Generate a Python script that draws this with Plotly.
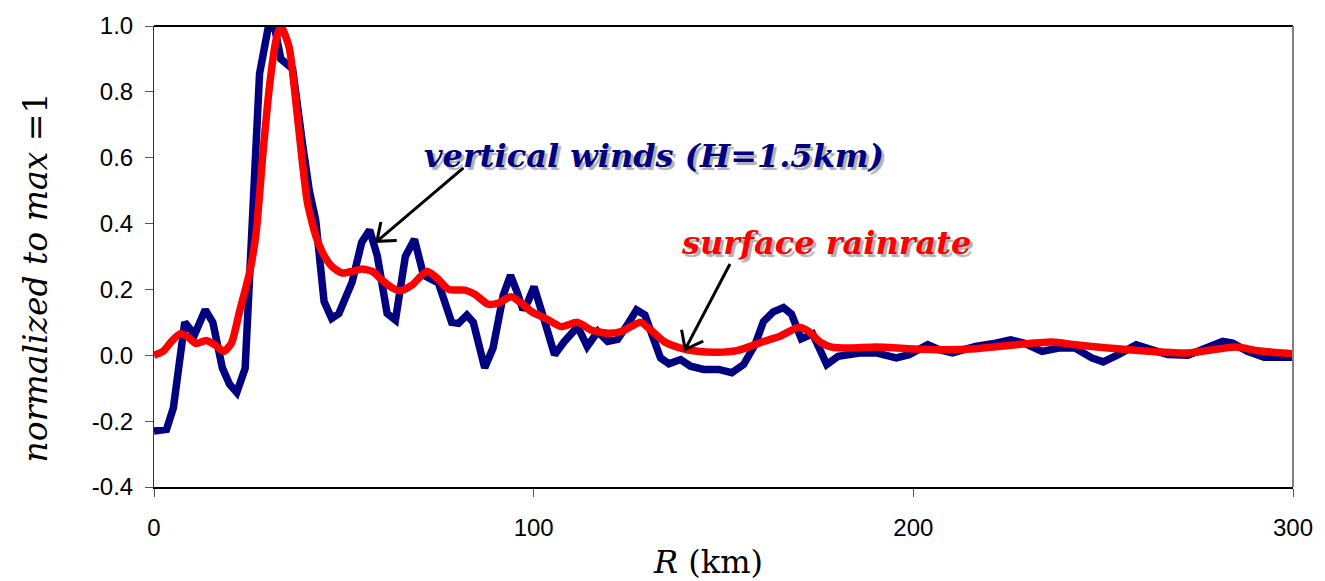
import math
import plotly.graph_objects as go

# Radial profiles, R in km
wind_r = [0, 3.3, 5.1, 8.1, 10.7, 13.5, 15.5, 18.0, 19.9, 21.8, 24.0, 26.4, 27.8, 30.0, 31.7,
          33.4, 36.5, 39.1, 40.9, 42.6, 44.8, 46.8, 48.7, 52.2, 54.7, 56.8, 58.8, 61.4, 63.6,
          66.2, 68.6, 71.0, 74.9, 78.4, 80.2, 82.4, 84.1, 87.1, 89.3, 92.0, 93.9, 95.6, 97.2,
          98.5, 100.1, 102.4, 105.5, 108.1, 111.6, 114.1, 116.9, 119.5, 122.1, 124.7, 127.1,
          129.3, 131.7, 133.4, 135.6, 138.7, 141.3, 144.8, 148.7, 152.2, 155.3, 158.3, 160.5,
          163.1, 165.8, 167.9, 170.5, 173.5, 177.2, 180.2, 185.8, 190.2, 195.5, 198.9, 203.8,
          206.8, 210.3, 216.4, 221.7, 225.6, 229.1, 233.9, 238.3, 242.6, 247.0, 250.0, 254.0,
          258.7, 262.7, 267.0, 272.3, 277.6, 281.5, 284.1, 288.0, 292.4, 298.5, 300.0]
wind_w = [-0.23, -0.225, -0.16, 0.10, 0.063, 0.138, 0.10, -0.038, -0.088, -0.113, -0.04, 0.58,
          0.855, 0.99, 1.0, 0.90, 0.87, 0.644, 0.50, 0.41, 0.163, 0.112, 0.127, 0.223, 0.343,
          0.38, 0.303, 0.127, 0.107, 0.30, 0.352, 0.243, 0.22, 0.10, 0.097, 0.122, 0.10, -0.038,
          0.022, 0.183, 0.243, 0.193, 0.138, 0.163, 0.208, 0.122, 0.002, 0.042, 0.087, 0.027,
          0.072, 0.042, 0.048, 0.093, 0.138, 0.122, 0.042, -0.008, -0.026, -0.013, -0.033,
          -0.043, -0.043, -0.053, -0.028, 0.032, 0.102, 0.132, 0.145, 0.125, 0.05, 0.065,
          -0.028, -0.003, 0.007, 0.007, -0.008, 0.002, 0.032, 0.017, 0.007, 0.027, 0.037,
          0.047, 0.037, 0.012, 0.022, 0.022, -0.008, -0.02, 0.002, 0.032, 0.017, 0.002, 0.0,
          0.022, 0.042, 0.037, 0.012, -0.006, -0.006, -0.006]

rain_r = [0, 2.4, 4.6, 6.8, 9.0, 11.0, 13.8, 16.0, 18.4, 20.4, 22.5, 25.2, 26.9, 28.7, 30.4,
          32.1, 33.4, 35.6, 37.4, 39.1, 40.4, 42.6, 44.8, 47.0, 49.6, 52.2, 54.8, 57.5, 60.1,
          62.7, 64.9, 67.9, 71.9, 74.5, 77.6, 81.9, 84.5, 88.0, 90.6, 94.1, 96.8, 99.4, 103.8,
          107.2, 111.6, 115.1, 119.5, 123.0, 125.6, 128.2, 130.8, 134.3, 138.7, 143.1, 148.3,
          153.5, 157.0, 160.5, 164.9, 169.8, 172.5, 175.5, 178.5, 183.2, 190.2, 198.9, 207.7,
          216.4, 225.1, 236.5, 242.6, 251.3, 260.0, 272.3, 284.8, 290.8, 298.5, 300.0]
rain_w = [0.0, 0.012, 0.042, 0.065, 0.055, 0.036, 0.045, 0.032, 0.012, 0.037, 0.132, 0.253,
          0.373, 0.614, 0.815, 0.955, 1.0, 0.935, 0.765, 0.584, 0.464, 0.363, 0.303, 0.268,
          0.25, 0.255, 0.262, 0.255, 0.228, 0.205, 0.196, 0.213, 0.255, 0.235, 0.2, 0.198,
          0.185, 0.155, 0.158, 0.178, 0.158, 0.133, 0.108, 0.087, 0.1, 0.077, 0.067, 0.072,
          0.087, 0.1, 0.077, 0.042, 0.022, 0.012, 0.009, 0.014, 0.027, 0.042, 0.058, 0.085,
          0.072, 0.04, 0.025, 0.022, 0.025, 0.02, 0.017, 0.02, 0.03, 0.04, 0.032, 0.022,
          0.014, 0.007, 0.025, 0.014, 0.006, 0.005]

x_ticks = [0, 100, 200, 300]
y_ticks = [-0.4, -0.2, 0.0, 0.2, 0.4, 0.6, 0.8, 1.0]
y_labels = ["-0.4", "-0.2", "0.0", "0.2", "0.4", "0.6", "0.8", "1.0"]

W, H = 1325, 581
ML, MR, MT, MB = 154, 26, 22, 94
X_RANGE = [0, 300]
Y_RANGE = [-0.4, 1.0]
PX_X = (W - ML - MR) / (X_RANGE[1] - X_RANGE[0])
PX_Y = (H - MT - MB) / (Y_RANGE[1] - Y_RANGE[0])

NAVY = "#000080"
RED = "#ff0000"
SERIF = "DejaVu Serif"
SANS = "Liberation Sans"

fig = go.Figure()
fig.add_trace(go.Scatter(x=wind_r, y=wind_w, mode="lines",
                         line=dict(color=NAVY, width=7.5), name="vertical winds"))
fig.add_trace(go.Scatter(x=rain_r, y=rain_w, mode="lines",
                         line=dict(color=RED, width=7.5, shape="spline", smoothing=0.6),
                         name="surface rainrate"))


def arrow_path(tail, head, barb=20, spread=38):
    """Open V arrow from tail to head, in data units, barbs sized in pixels."""
    dxp = (tail[0] - head[0]) * PX_X
    dyp = (tail[1] - head[1]) * PX_Y
    ang = math.atan2(dyp, dxp)
    pts = []
    for s in (-1, 1):
        a = ang + s * math.radians(spread)
        pts.append((head[0] + barb * math.cos(a) / PX_X, head[1] + barb * math.sin(a) / PX_Y))
    return (f"M{tail[0]},{tail[1]} L{head[0]},{head[1]} "
            f"M{pts[0][0]},{pts[0][1]} L{head[0]},{head[1]} L{pts[1][0]},{pts[1][1]}")


shapes = [
    dict(type="path", xref="x", yref="y", path=arrow_path((81.5, 0.569), (58.7, 0.346)),
         line=dict(color="black", width=3)),
    dict(type="path", xref="x", yref="y", path=arrow_path((151.7, 0.277), (139.9, 0.018)),
         line=dict(color="black", width=3)),
    # frame: top and right edges
    dict(type="line", xref="paper", yref="paper", x0=0, x1=1, y0=1, y1=1,
         line=dict(color="black", width=2)),
    dict(type="line", xref="paper", yref="paper", x0=1, x1=1, y0=0, y1=1,
         line=dict(color="#808080", width=2)),
]

SHADOW = "3px 3px 1px #b0b0b0"
annotations = [
    dict(text="vertical winds (H=1.5km)", x=131.8, y=0.605, xref="x", yref="y",
         showarrow=False, xanchor="center", yanchor="middle",
         font=dict(family=SERIF, size=32, color=NAVY, style="italic", weight="bold",
                   shadow=SHADOW)),
    dict(text="surface rainrate", x=177.1, y=0.34, xref="x", yref="y",
         showarrow=False, xanchor="center", yanchor="middle",
         font=dict(family=SERIF, size=32, color=RED, style="italic", weight="bold",
                   shadow=SHADOW)),
    dict(text="<i>R</i> (km)", xref="paper", yref="paper", x=(711 - ML) / (W - ML - MR),
         y=-0.163, showarrow=False, xanchor="center", yanchor="middle",
         font=dict(family=SERIF, size=32, color="black")),
    dict(text="<i>normalized to max</i> =1", xref="paper", yref="paper",
         x=(35 - ML) / (W - ML - MR), y=(H - MB - 276) / (H - MT - MB), textangle=-90,
         showarrow=False, xanchor="center", yanchor="middle",
         font=dict(family=SERIF, size=33, color="black")),
]

fig.update_layout(
    width=W, height=H, autosize=False,
    margin=dict(l=ML, r=MR, t=MT, b=MB, pad=0),
    paper_bgcolor="white", plot_bgcolor="white",
    showlegend=False,
    shapes=shapes, annotations=annotations,
    xaxis=dict(range=X_RANGE, tickvals=x_ticks, ticks="outside", ticklen=8,
               tickcolor="#555555", tickwidth=1, showgrid=False, zeroline=False,
               showline=True, linecolor="black", linewidth=2, ticklabelstandoff=10,
               tickfont=dict(family=SANS, size=24, color="black")),
    yaxis=dict(range=Y_RANGE, tickvals=y_ticks, ticktext=y_labels, ticks="outside",
               ticklen=8, tickcolor="#555555", tickwidth=1, showgrid=False,
               zeroline=False, showline=True, linecolor="#333333", linewidth=1,
               ticklabelstandoff=7,
               tickfont=dict(family=SANS, size=24, color="black")),
)

fig.write_html("out.html")
